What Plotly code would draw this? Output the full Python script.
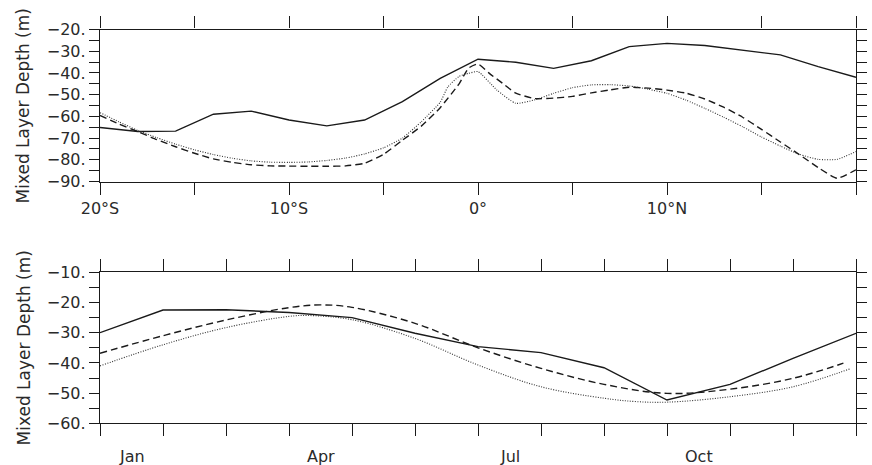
import plotly.graph_objects as go

# ---------------- Top panel: latitude section ----------------
lat_solid = [-20, -18, -16, -14, -12, -10, -8, -6, -4, -2, 0, 2, 4, 6, 8, 10, 12, 14, 16, 18, 20]
mld_solid = [-65.1, -67.0, -66.8, -59.0, -57.6, -61.7, -64.4, -61.7, -53.2, -42.5, -33.7,
             -35.1, -37.9, -34.4, -27.9, -26.4, -27.4, -29.4, -31.7, -37.1, -42.0]

lat_dash = [-20, -19, -18, -17, -16, -15, -14, -13, -12, -11, -10, -9, -8, -7, -6, -5, -4, -3,
            -2, -1, -0.5, 0, 0.6, 1.3, 2, 3, 4, 5, 6, 7, 8, 9, 10, 11, 12, 13, 14, 15, 16, 17, 18, 19, 20]
mld_dash = [-59.6, -63.5, -67.0, -70.7, -74.0, -77.0, -79.6, -81.2, -82.3, -82.8, -82.9, -83.0,
            -83.0, -82.8, -81.6, -77.5, -71.0, -64.5, -56.0, -45.0, -37.8, -35.9, -40.2, -44.8,
            -49.3, -51.8, -51.6, -50.8, -49.2, -47.8, -46.6, -47.0, -47.9, -49.3, -52.0, -55.8,
            -60.4, -66.0, -71.8, -77.6, -83.6, -88.5, -84.6]

lat_dot = [-20, -19, -18, -17, -16, -15, -14, -13, -12, -11, -10, -9, -8, -7, -6, -5, -4, -3,
           -2, -1.6, -1, -0.5, 0, 1, 2, 3, 4, 5, 6, 7, 8, 9, 10, 11, 12, 13, 14, 15, 16, 17, 18, 19, 20]
mld_dot = [-58.3, -62.5, -66.5, -69.8, -72.8, -75.4, -77.6, -79.3, -80.5, -81.1, -81.2, -81.0,
           -80.3, -79.2, -77.3, -74.5, -70.0, -62.5, -53.5, -46.5, -41.6, -40.2, -39.4, -47.9,
           -54.0, -52.4, -49.4, -46.8, -45.5, -45.4, -46.0, -47.5, -49.4, -52.5, -56.3, -60.4,
           -64.8, -69.5, -73.7, -77.5, -79.8, -79.8, -76.2]

lat_tickvals = [-20, -15, -10, -5, 0, 5, 10, 15, 20]
lat_ticktext = ["20°S", "", "10°S", "", "0°", "", "10°N", "", "20°N"]
top_yvals = [-90, -85, -80, -75, -70, -65, -60, -55, -50, -45, -40, -35, -30, -25, -20]
top_ytext = ["−90.", "", "−80.", "", "−70.", "", "−60.", "", "−50.", "", "−40.", "", "−30.", "", "−20."]

# ---------------- Bottom panel: seasonal cycle ----------------
mon_solid = [0, 1, 2, 3, 4, 5, 6, 7, 8, 9, 10, 11, 12]
seas_solid = [-30.0, -22.5, -22.4, -23.3, -25.0, -30.2, -34.6, -36.6, -41.6, -52.3, -47.1, -38.5, -30.2]

mon_dash = [0, 1, 2, 3, 3.5, 4, 5, 6, 7, 8, 9, 10, 11, 11.8]
seas_dash = [-36.8, -31.0, -25.8, -21.7, -20.8, -21.6, -26.9, -35.0, -41.8, -47.1, -50.1, -48.7, -45.1, -40.1]

mon_dot = [0, 1, 2, 3, 3.3, 4, 5, 6, 7, 8, 8.5, 9, 10, 11, 11.9]
seas_dot = [-41.0, -34.0, -28.3, -24.6, -24.3, -25.7, -31.9, -40.7, -47.9, -51.7, -52.8, -53.0, -51.2, -47.9, -42.0]

month_ticks = list(range(13))
month_label_pos = [0.5, 3.5, 6.5, 9.5]
month_labels = ["Jan", "Apr", "Jul", "Oct"]
bot_yvals = [-60, -55, -50, -45, -40, -35, -30, -25, -20, -15, -10]
bot_ytext = ["−60.", "", "−50.", "", "−40.", "", "−30.", "", "−20.", "", "−10."]

ytitle = "Mixed Layer Depth (m)"

INK = "#1a1a1a"
TXT = "#2a2a2a"
FONT = "DejaVu Sans"
W, H = 872, 465

fig = go.Figure()

def add_lines(x1, y1, x2, y2, x3, y3, xa, ya, smooth):
    fig.add_trace(go.Scatter(x=x1, y=y1, mode="lines", xaxis=xa, yaxis=ya,
                             line=dict(color=INK, width=1.4), showlegend=False))
    fig.add_trace(go.Scatter(x=x2, y=y2, mode="lines", xaxis=xa, yaxis=ya,
                             line=dict(color=INK, width=1.4, dash="7px,4px",
                                       shape="spline", smoothing=smooth), showlegend=False))
    fig.add_trace(go.Scatter(x=x3, y=y3, mode="lines", xaxis=xa, yaxis=ya,
                             line=dict(color="#333333", width=1.1, dash="1px,1.5px",
                                       shape="spline", smoothing=smooth), showlegend=False))

add_lines(lat_solid, mld_solid, lat_dash, mld_dash, lat_dot, mld_dot, "x", "y", 0.5)
add_lines(mon_solid, seas_solid, mon_dash, seas_dash, mon_dot, seas_dot, "x2", "y2", 1.0)

def px_dom(a, b, total):
    return [a / total, b / total]

def ydom(top_px, bot_px):
    return [1 - bot_px / H, 1 - top_px / H]

axis_common = dict(showline=True, linecolor=INK, linewidth=1.3, mirror="ticks",
                   ticks="outside", tickcolor=INK, tickwidth=1.3, showgrid=False,
                   zeroline=False, automargin=False,
                   tickfont=dict(family=FONT, size=16, color=TXT))

fig.update_layout(
    width=W, height=H,
    margin=dict(l=0, r=0, t=0, b=0, autoexpand=False),
    paper_bgcolor="white", plot_bgcolor="white",
    xaxis=dict(domain=px_dom(100, 856, W), range=[-20, 20], anchor="y",
               tickmode="array", tickvals=lat_tickvals, ticktext=lat_ticktext,
               ticklen=12, **axis_common),
    yaxis=dict(domain=ydom(29.5, 181.5), range=[-90, -20], anchor="x",
               tickmode="array", tickvals=top_yvals, ticktext=top_ytext,
               ticklen=10, **axis_common),
    xaxis2=dict(domain=px_dom(100, 856, W), range=[0, 12], anchor="y2",
                tickmode="array", tickvals=month_ticks, showticklabels=False,
                ticklen=12, **axis_common),
    yaxis2=dict(domain=ydom(272.3, 423.3), range=[-60, -10], anchor="x2",
                tickmode="array", tickvals=bot_yvals, ticktext=bot_ytext,
                ticklen=10, **axis_common),
)

for pos, lab in zip(month_label_pos, month_labels):
    fig.add_annotation(x=pos, y=1 - 456 / H, xref="x2", yref="paper", text=lab,
                       showarrow=False, xanchor="center", yanchor="middle",
                       font=dict(family=FONT, size=16, color=TXT))

for yc in (106.5, 348.5):
    fig.add_annotation(x=23 / W, y=1 - yc / H, xref="paper", yref="paper", text=ytitle,
                       textangle=-90, showarrow=False, xanchor="center", yanchor="middle",
                       font=dict(family=FONT, size=17, color=TXT))

fig.write_html("out.html")
